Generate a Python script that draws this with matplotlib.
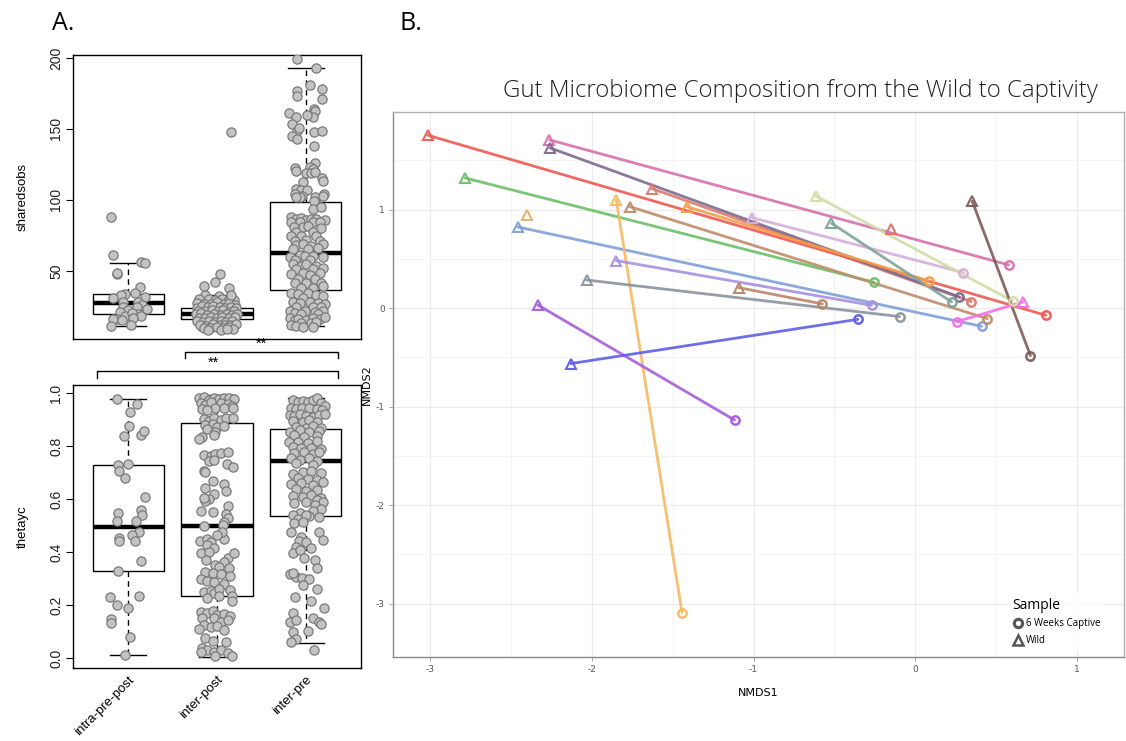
import matplotlib
matplotlib.use("Agg")
import matplotlib.pyplot as plt
from matplotlib.lines import Line2D

plt.rcParams["axes.unicode_minus"] = False

# ---------------- panel A data ----------------
groups = ["intra-pre-post", "inter-post", "inter-pre"]

# box statistics (whisker low, q1, median, q3, whisker high)
obs_lo = [10.9, 8.0, 11.1]
obs_q1 = [19.8, 15.8, 36.3]
obs_med = [27.1, 19.4, 62.9]
obs_q3 = [33.9, 24.0, 98.8]
obs_hi = [55.2, 33.0, 192.9]

theta_lo = [0.011, 0.005, 0.055]
theta_q1 = [0.328, 0.235, 0.536]
theta_med = [0.495, 0.497, 0.745]
theta_q3 = [0.73, 0.885, 0.864]
theta_hi = [0.977, 0.992, 0.980]

# jittered points (x offset from group centre, value)
obs_intra = [(-0.195, 88.2), (-0.17, 61.1), (-0.13, 48.1), (-0.12, 48.8), (0.15, 55.9), (0.19, 55.2),
             (0.135, 38.5), (0.08, 34.2), (-0.03, 33.7), (-0.08, 33.0), (0.19, 31.8), (-0.17, 30.9),
             (-0.06, 28.3), (0.11, 28.3), (0.16, 26.1), (-0.06, 24.5), (0.10, 24.5), (0.0, 22.1),
             (0.21, 22.8), (-0.09, 20.7), (0.11, 19.8), (-0.03, 17.9), (0.15, 18.4), (0.045, 20.5),
             (-0.12, 16.2), (-0.17, 15.8), (-0.07, 15.3), (0.05, 16.5), (-0.19, 10.9), (0.03, 12.0)]

obs_post = [(-0.13, 33.0), (0.02, 32.5), (0.15, 31.5),
            (-0.20, 30.5), (-0.09, 30.0), (-0.02, 29.5), (0.06, 30.2), (0.12, 29.0), (0.19, 29.8),
            (-0.22, 27.5), (-0.15, 27.0), (-0.07, 26.5), (0.0, 27.8), (0.08, 26.8), (0.14, 27.2), (0.20, 26.0),
            (-0.23, 24.0), (-0.17, 25.0), (-0.10, 24.2), (-0.04, 25.2), (0.03, 24.5), (0.09, 23.8), (0.16, 24.8),
            (0.21, 23.5), (-0.21, 22.0), (-0.14, 21.5), (-0.06, 22.4), (0.01, 21.8), (0.07, 22.2), (0.13, 21.2),
            (0.19, 22.0), (-0.24, 19.5), (-0.18, 20.0), (-0.11, 19.2), (-0.03, 19.8), (0.04, 19.0), (0.11, 19.6),
            (0.17, 18.8), (0.22, 19.5), (-0.20, 17.0), (-0.13, 16.5), (-0.07, 17.4), (0.0, 16.8), (0.06, 17.2),
            (0.14, 16.6), (0.20, 17.3), (-0.22, 14.5), (-0.16, 14.0), (-0.09, 15.0), (-0.02, 14.2), (0.05, 14.8),
            (0.10, 13.8), (0.17, 14.4), (-0.19, 12.0), (-0.12, 11.5), (-0.04, 12.4), (0.03, 11.8), (0.09, 12.2),
            (0.15, 11.6), (0.21, 12.5), (-0.15, 10.0), (-0.08, 9.5), (0.0, 10.2), (0.07, 9.8), (0.13, 10.4),
            (0.18, 9.2), (-0.10, 8.6), (0.04, 8.2), (0.11, 8.8),
            (0.03, 48.1), (-0.02, 42.0), (-0.15, 39.2), (0.14, 38.2), (0.16, 32.8), (0.16, 147.9)]

obs_pre = [(-0.10, 199.5), (0.116, 193.1), (0.048, 181.1), (0.177, 178.3), (-0.105, 176.4), (-0.105, 172.9),
           (0.183, 171.2), (0.087, 164.1), (0.098, 162.3), (0.079, 158.3), (-0.188, 161.1), (-0.116, 158.3),
           (0.015, 159.4), (-0.154, 153.1), (-0.098, 148.8), (-0.079, 150.5), (0.087, 148.1), (0.183, 148.8),
           (-0.157, 145.3), (-0.098, 142.5), (0.09, 138.2), (0.10, 125.7), (0.042, 123.4), (0.079, 121.7),
           (-0.127, 122.4), (-0.112, 120.5), (0.003, 118.6), (0.06, 118.8), (0.105, 119.3), (0.183, 115.1),
           (0.19, 113.2), (-0.034, 112.3), (-0.109, 107.5), (-0.053, 106.8), (0.015, 107.1), (-0.127, 104.0),
           (-0.042, 102.8), (-0.071, 101.9), (0.2, 104.0), (0.098, 99.7),
           (-0.109, 101.9), (0.098, 101.9), (0.19, 103.0), (0.09, 99.5), (0.079, 93.6), (0.173, 94.8),
           (-0.165, 87.7), (-0.109, 86.5), (-0.052, 87.0), (0.004, 86.1), (0.06, 86.5), (0.116, 86.5),
           (0.21, 85.8), (-0.165, 84.2), (-0.071, 84.2), (0.079, 84.2), (0.154, 84.2), (-0.139, 80.7),
           (-0.034, 80.7), (0.022, 81.4), (0.173, 80.0), (-0.109, 77.1), (0.079, 77.6), (-0.165, 74.3),
           (-0.052, 74.8), (0.116, 74.3), (0.004, 71.9), (-0.127, 71.2), (0.154, 71.2), (-0.109, 68.1),
           (-0.034, 68.8), (0.06, 67.7), (0.19, 68.8), (-0.146, 65.3), (0.022, 65.3), (0.135, 65.8),
           (-0.184, 59.9), (-0.071, 61.1), (-0.015, 60.1), (0.079, 60.6), (0.19, 59.4), (-0.127, 57.8),
           (0.041, 57.8), (-0.146, 54.7), (-0.052, 53.5), (0.004, 54.7), (0.116, 53.5), (0.19, 52.3),
           (-0.109, 51.6), (0.079, 51.6), (-0.165, 47.6), (-0.034, 48.8), (0.041, 46.9), (0.154, 48.3),
           (-0.09, 44.6), (0.098, 44.6), (-0.127, 41.3), (0.004, 41.3), (0.173, 41.3), (-0.052, 38.2),
           (0.079, 38.2), (0.19, 39.4), (-0.165, 34.7), (-0.09, 33.5), (0.022, 34.2), (0.116, 32.8),
           (0.19, 32.3), (-0.034, 31.1), (-0.146, 28.1), (-0.071, 27.6), (0.041, 28.1), (0.135, 27.1),
           (0.21, 26.4), (-0.109, 24.7), (0.079, 24.7), (0.173, 24.7), (-0.184, 21.7), (-0.127, 20.5),
           (-0.015, 21.7), (0.098, 21.0), (0.19, 21.7), (-0.052, 19.3), (0.135, 19.3), (-0.184, 17.0),
           (-0.127, 15.3), (-0.09, 16.2), (0.004, 15.3), (0.079, 17.0), (0.154, 15.8), (0.21, 17.7),
           (-0.052, 13.4), (0.06, 13.0), (0.116, 13.9), (-0.165, 12.2), (-0.109, 11.1), (-0.034, 10.6),
           (0.079, 10.6)]

theta_intra = [(-0.13, 0.977), (0.10, 0.96), (0.02, 0.93), (0.01, 0.874), (-0.045, 0.838), (0.14, 0.843),
               (0.18, 0.858), (-0.11, 0.728), (0.0, 0.732), (-0.10, 0.705), (-0.03, 0.68), (0.195, 0.608),
               (0.15, 0.56), (0.16, 0.54), (-0.11, 0.546), (-0.13, 0.517), (0.09, 0.516), (0.12, 0.475),
               (0.04, 0.463), (0.08, 0.44), (-0.10, 0.454), (-0.105, 0.443), (0.15, 0.367), (-0.115, 0.328),
               (-0.20, 0.23), (-0.12, 0.20), (0.12, 0.233), (0.0, 0.19), (-0.19, 0.146), (-0.19, 0.13),
               (0.02, 0.08), (-0.03, 0.01)]

theta_post = [(-0.20, 0.980), (-0.15, 0.986), (-0.09, 0.973), (-0.03, 0.982), (0.02, 0.977), (0.08, 0.982),
              (0.13, 0.980), (0.19, 0.977), (-0.18, 0.961), (-0.13, 0.955), (-0.07, 0.965), (0.04, 0.961),
              (0.12, 0.957), (0.17, 0.952), (-0.17, 0.939), (-0.02, 0.942), (0.08, 0.942), (0.18, 0.944),
              (-0.11, 0.936), (-0.15, 0.902), (-0.09, 0.894), (-0.03, 0.904), (0.04, 0.898), (0.10, 0.904),
              (0.18, 0.907), (-0.13, 0.879), (-0.05, 0.882), (0.0, 0.873), (0.08, 0.877), (-0.11, 0.864),
              (-0.02, 0.854), (-0.17, 0.835), (-0.20, 0.826), (-0.03, 0.841), (-0.15, 0.766), (-0.07, 0.763),
              (-0.02, 0.768), (0.04, 0.772), (0.12, 0.778), (-0.09, 0.743), (-0.03, 0.747), (0.11, 0.731),
              (0.18, 0.722), (-0.15, 0.705), (-0.13, 0.700), (-0.04, 0.668), (0.08, 0.658), (0.10, 0.630),
              (-0.13, 0.640), (-0.03, 0.617), (-0.09, 0.600), (-0.13, 0.592), (-0.15, 0.602), (-0.18, 0.554),
              (-0.05, 0.549), (0.12, 0.575), (0.10, 0.542), (0.12, 0.529), (0.08, 0.512), (-0.15, 0.499),
              (0.07, 0.502), (-0.19, 0.441), (-0.11, 0.449), (-0.07, 0.439), (0.08, 0.449), (-0.11, 0.426),
              (-0.03, 0.416), (-0.18, 0.395), (-0.09, 0.401), (0.06, 0.476), (0.0, 0.464), (-0.12, 0.370),
              (0.12, 0.376), (0.19, 0.395), (0.08, 0.361), (-0.02, 0.351), (0.02, 0.344), (0.13, 0.338),
              (-0.13, 0.323), (-0.05, 0.319), (0.04, 0.315), (0.15, 0.310), (-0.18, 0.298), (-0.11, 0.290),
              (-0.03, 0.285), (0.08, 0.278), (-0.15, 0.250), (-0.07, 0.253), (-0.03, 0.244), (0.02, 0.260),
              (0.15, 0.256), (0.17, 0.235), (0.17, 0.215), (-0.11, 0.225), (0.02, 0.235), (-0.18, 0.175),
              (-0.11, 0.168), (-0.05, 0.177), (0.0, 0.162), (0.08, 0.165), (0.15, 0.160), (-0.17, 0.149),
              (-0.03, 0.152), (0.04, 0.137), (0.12, 0.143), (-0.15, 0.124), (-0.07, 0.118), (0.0, 0.122),
              (-0.20, 0.109), (0.08, 0.105), (-0.13, 0.074), (-0.05, 0.064), (0.10, 0.061), (-0.17, 0.036),
              (-0.11, 0.030), (-0.03, 0.024), (0.04, 0.030), (0.12, 0.017), (0.17, 0.008), (-0.02, 0.008),
              (-0.18, 0.024)]

theta_pre = [(-0.15, 0.973), (-0.09, 0.965), (-0.03, 0.970), (0.02, 0.967), (0.08, 0.973), (0.12, 0.980),
             (0.17, 0.961), (0.21, 0.952), (-0.17, 0.944), (-0.11, 0.939), (-0.04, 0.942), (0.04, 0.944),
             (0.12, 0.939), (0.18, 0.936), (-0.18, 0.917), (-0.13, 0.914), (-0.07, 0.919), (0.0, 0.914),
             (0.08, 0.910), (0.15, 0.917), (0.21, 0.919), (-0.15, 0.894), (-0.03, 0.892), (0.04, 0.898),
             (0.12, 0.889), (-0.11, 0.873), (0.0, 0.869), (0.08, 0.877), (0.17, 0.866), (-0.18, 0.854),
             (-0.07, 0.860), (0.04, 0.854), (0.15, 0.856), (-0.13, 0.841), (-0.02, 0.835), (0.12, 0.839),
             (-0.19, 0.816), (-0.09, 0.814), (0.02, 0.810), (0.13, 0.819), (-0.15, 0.797), (-0.05, 0.791),
             (0.06, 0.793), (0.17, 0.788), (-0.13, 0.772), (-0.02, 0.778), (0.08, 0.768), (0.15, 0.776),
             (-0.17, 0.753), (-0.07, 0.747), (0.04, 0.756), (0.12, 0.743), (-0.11, 0.734), (0.08, 0.728),
             (-0.15, 0.693), (-0.03, 0.700), (0.06, 0.705), (0.17, 0.697), (-0.09, 0.680), (0.02, 0.675),
             (0.13, 0.672), (-0.17, 0.655), (-0.05, 0.659), (0.08, 0.653), (0.19, 0.663), (-0.11, 0.638),
             (0.0, 0.630), (0.12, 0.634), (-0.15, 0.612), (-0.03, 0.609), (0.06, 0.615), (0.17, 0.605),
             (0.12, 0.596), (0.19, 0.590), (-0.13, 0.583), (0.0, 0.587), (0.10, 0.577), (0.17, 0.562),
             (0.08, 0.555), (-0.07, 0.546), (-0.15, 0.540), (0.04, 0.537), (0.15, 0.533), (-0.09, 0.524),
             (0.0, 0.540), (-0.13, 0.508), (-0.03, 0.512), (0.15, 0.476), (0.19, 0.445), (-0.17, 0.476),
             (-0.05, 0.458), (-0.08, 0.441), (0.0, 0.439), (-0.11, 0.420), (0.06, 0.416), (-0.15, 0.395),
             (-0.07, 0.407), (-0.02, 0.376), (0.10, 0.370), (0.12, 0.341), (-0.18, 0.316), (-0.11, 0.307),
             (-0.14, 0.319), (-0.04, 0.300), (0.03, 0.298), (-0.03, 0.275), (0.12, 0.260), (-0.12, 0.231),
             (0.06, 0.215), (0.20, 0.190), (-0.14, 0.168), (-0.18, 0.134), (-0.11, 0.143), (0.08, 0.149),
             (0.15, 0.134), (0.17, 0.127), (-0.14, 0.099), (0.02, 0.102), (-0.11, 0.071), (-0.17, 0.059),
             (0.09, 0.030)]

# ---------------- panel B data (NMDS) ----------------
pair_colors = ["#DC7A70", "#EE5A52", "#D670AC", "#7D6B8F", "#6CBF68", "#7E9FD8", "#F6BA63",
               "#BE8C6A", "#F79D45", "#D5AEDB", "#D3DCA5", "#7FA29B", "#7F5B57", "#F56DEB",
               "#A690E0", "#8A939D", "#B98666", "#A55CDA", "#5E5EE6", "#E3AE6C", "#E07365"]
wild_x = [-1.629, -3.015, -2.262, -2.258, -2.785, -2.458, -1.849, -1.767, -1.413, -1.012, -0.615,
          -0.518, 0.353, 0.666, -1.849, -2.032, -1.092, -2.334, -2.131, -2.402, -0.148]
wild_y = [1.213, 1.754, 1.707, 1.625, 1.321, 0.823, 1.097, 1.030, 1.030, 0.919, 1.138,
          0.861, 1.084, 0.062, 0.482, 0.285, 0.208, 0.031, -0.563, 0.949, 0.807]
capt_x = [0.347, 0.808, 0.578, 0.273, -0.255, 0.411, -1.442, 0.446, 0.084, 0.298, 0.602,
          0.226, 0.713, 0.259, -0.270, -0.097, -0.574, -1.117, -0.354, None, None]
capt_y = [0.066, -0.073, 0.438, 0.113, 0.262, -0.185, -3.091, -0.107, 0.275, 0.360, 0.072,
          0.062, -0.482, -0.137, 0.028, -0.086, 0.042, -1.136, -0.114, None, None]

# ---------------- figure ----------------
fig = plt.figure(figsize=(11.26, 7.41), dpi=100)
fig.patch.set_facecolor("white")

axA1 = fig.add_axes([0.0648, 0.5425, 0.2558, 0.3833])
axA2 = fig.add_axes([0.0648, 0.0985, 0.2558, 0.3819])
axB = fig.add_axes([0.349, 0.1134, 0.649, 0.7355])

rfont = "Liberation Sans"


def draw_box_panel(ax, lo, q1, med, q3, hi, point_sets):
    stats = []
    for i in range(3):
        stats.append(dict(whislo=lo[i], q1=q1[i], med=med[i], q3=q3[i], whishi=hi[i], fliers=[]))
    ax.bxp(stats, positions=[1, 2, 3], widths=0.8, showfliers=False, patch_artist=True,
           capwidths=0.4,
           boxprops=dict(facecolor="white", edgecolor="black", linewidth=1.0),
           medianprops=dict(color="black", linewidth=3.2, solid_capstyle="butt"),
           whiskerprops=dict(color="black", linewidth=1.0, linestyle=(0, (4, 3))),
           capprops=dict(color="black", linewidth=1.0))
    for i, pts in enumerate(point_sets):
        xs = [i + 1 + p[0] for p in pts]
        ys = [p[1] for p in pts]
        ax.scatter(xs, ys, s=44, c="#C3C3C3", edgecolors="#7A7A7A", linewidths=0.9, zorder=4)
    ax.set_xlim(0.38, 3.62)
    for s in ax.spines.values():
        s.set_linewidth(1.0)
        s.set_color("black")
    ax.tick_params(axis="y", direction="out", length=5, width=0.8, labelsize=10,
                   labelrotation=90, labelcolor="#222222", pad=2)


draw_box_panel(axA1, obs_lo, obs_q1, obs_med, obs_q3, obs_hi, [obs_intra, obs_post, obs_pre])
axA1.set_ylim(2, 202)
axA1.set_yticks([50, 100, 150, 200])
axA1.set_yticklabels(["50", "100", "150", "200"], fontfamily=rfont, va="center")
axA1.set_xticks([])
axA1.set_ylabel("sharedsobs", fontsize=9.5, fontfamily=rfont, labelpad=15)

draw_box_panel(axA2, theta_lo, theta_q1, theta_med, theta_q3, theta_hi,
               [theta_intra, theta_post, theta_pre])
axA2.set_ylim(-0.038, 1.03)
axA2.set_yticks([0.0, 0.2, 0.4, 0.6, 0.8, 1.0])
axA2.set_yticklabels(["0.0", "0.2", "0.4", "0.6", "0.8", "1.0"], fontfamily=rfont, va="center")
axA2.set_xticks([1, 2, 3])
axA2.set_xticklabels(groups, rotation=45, ha="right", va="top", fontsize=9.5,
                     fontfamily=rfont, rotation_mode="anchor")
axA2.tick_params(axis="x", length=0, pad=4)
axA2.set_ylabel("thetayc", fontsize=9.5, fontfamily=rfont, labelpad=15)

# significance brackets above the lower panel
for (x0, x1, yb, yt, xs, ys) in [(0.389, 0.920, 1.095, 1.117, 0.656, 1.122),
                                   (0.083, 0.920, 1.025, 1.049, 0.486, 1.054)]:
    axA2.plot([x0, x0, x1, x1], [yb, yt, yt, yb], transform=axA2.transAxes, color="black",
              lw=1.0, clip_on=False)
    axA2.text(xs, ys, "**", transform=axA2.transAxes, ha="center", va="bottom", fontsize=10.5,
              fontfamily=rfont)

# ---------------- panel B ----------------
for i in range(len(wild_x)):
    c = pair_colors[i]
    if capt_x[i] is not None:
        axB.plot([wild_x[i], capt_x[i]], [wild_y[i], capt_y[i]], color=c, lw=2.0, alpha=0.9,
                 solid_capstyle="round", zorder=2)
        axB.plot(capt_x[i], capt_y[i], marker="o", ms=6, mfc="none", mec=c, mew=1.8, ls="none",
                 alpha=0.95, zorder=3)
    axB.plot(wild_x[i], wild_y[i], marker="^", ms=7.5, mfc="none", mec=c, mew=1.5, ls="none",
             alpha=0.95, zorder=3)

axB.set_xlim(-3.23, 1.29)
axB.set_ylim(-3.54, 1.99)
axB.set_xticks([-3, -2, -1, 0, 1])
axB.set_yticks([-3, -2, -1, 0, 1])
axB.set_xticks([-2.5, -1.5, -0.5, 0.5], minor=True)
axB.set_yticks([-2.5, -1.5, -0.5, 0.5, 1.5], minor=True)
axB.grid(which="major", color="#EBEBEB", lw=0.9)
axB.grid(which="minor", color="#F3F3F3", lw=0.7)
axB.set_axisbelow(True)
axB.tick_params(which="major", length=3, width=0.6, color="#999999", labelsize=6.5,
                labelcolor="#555555", pad=3)
axB.tick_params(which="minor", length=0)
for s in axB.spines.values():
    s.set_color("#B0B0B0")
    s.set_linewidth(1.0)
axB.spines["left"].set_color("#888888")
axB.spines["bottom"].set_color("#888888")
axB.set_xlabel("NMDS1", fontsize=8, fontfamily="DejaVu Sans", labelpad=10)
axB.set_ylabel("NMDS2", fontsize=8, fontfamily="DejaVu Sans", labelpad=3)

handles = [Line2D([], [], marker="o", ms=6, mfc="none", mec="#555555", mew=2.2, ls="none"),
           Line2D([], [], marker="^", ms=7.5, mfc="none", mec="#555555", mew=1.8, ls="none")]
leg = axB.legend(handles, ["6 Weeks Captive", "Wild"], title="Sample", loc="upper left",
                 bbox_to_anchor=(0.835, 0.125), frameon=True, title_fontsize=10,
                 handletextpad=0.2, labelspacing=0.6, borderpad=0.4, handlelength=1.2,
                 prop={"family": "Open Sans", "size": 7})
leg.get_frame().set_facecolor("white")
leg.get_frame().set_edgecolor("white")
leg._legend_box.align = "left"
leg.get_title().set_fontfamily("Open Sans")

fig.text(0.711, 0.877, "Gut Microbiome Composition from the Wild to Captivity", ha="center",
         va="center", fontsize=17.3, fontfamily="Open Sans", fontweight="light", color="#222222")
fig.text(0.056, 0.968, "A.", ha="center", va="center", fontsize=18, fontfamily="Open Sans")
fig.text(0.365, 0.968, "B.", ha="center", va="center", fontsize=18, fontfamily="Open Sans")

fig.savefig("out.png", dpi=100, facecolor="white")
